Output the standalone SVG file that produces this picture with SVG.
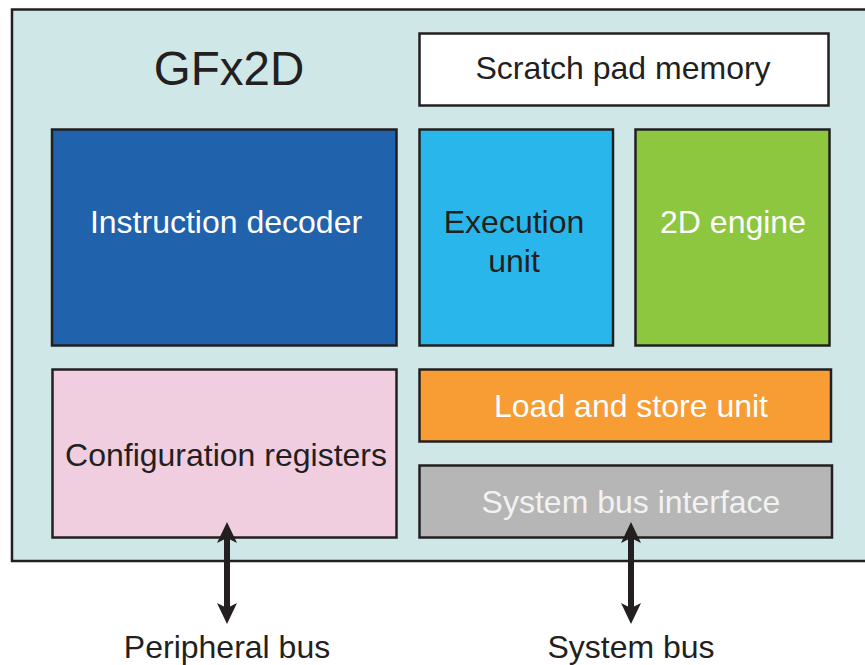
<svg xmlns="http://www.w3.org/2000/svg" width="865" height="665" viewBox="0 0 865 665">
<defs>
<style>
.box{stroke:#231f20;stroke-width:2.5}
.t{font-family:"Liberation Sans",Arial,sans-serif;font-size:32px;text-anchor:middle;fill:#231f20}
.w{fill:#ffffff}
.conn{stroke:#231f20;stroke-width:6;fill:none}
</style>
<marker id="ah" viewBox="0 0 21 20" refX="8" refY="10" markerWidth="21" markerHeight="20" markerUnits="userSpaceOnUse" orient="auto-start-reverse">
<path d="M0,0 L21,10 L0,20 L5,10 z" fill="#231f20"/>
</marker>
</defs>
<rect width="865" height="665" fill="#ffffff"/>
<g id="gfx2d">
<rect class="box" x="12" y="9.5" width="860" height="551.5" fill="#cfe8e7"/>
<text class="t" x="229" y="85" style="font-size:47.5px">GFx2D</text>
</g>
<g id="scratch">
<rect class="box" x="419.5" y="33.5" width="409" height="72" fill="#ffffff"/>
<text class="t" x="623" y="79">Scratch pad memory</text>
</g>
<g id="decoder">
<rect class="box" x="52" y="129.5" width="344.5" height="216" fill="#2162ad"/>
<text class="t w" x="226" y="233">Instruction decoder</text>
</g>
<g id="exec">
<rect class="box" x="419.5" y="129.5" width="193.5" height="216" fill="#29b7eb"/>
<text class="t" x="514" y="233">Execution</text>
<text class="t" x="514" y="272">unit</text>
</g>
<g id="engine">
<rect class="box" x="635.5" y="129.5" width="194" height="216" fill="#8dc63f"/>
<text class="t w" x="733" y="233">2D engine</text>
</g>
<g id="config">
<rect class="box" x="52.5" y="369.5" width="344" height="168" fill="#f0cee0"/>
<text class="t" x="226" y="466">Configuration registers</text>
</g>
<g id="lsu">
<rect class="box" x="419.5" y="369.5" width="411.5" height="72" fill="#f79d34"/>
<text class="t w" x="631" y="417">Load and store unit</text>
</g>
<g id="sbi">
<rect class="box" x="419.5" y="465.5" width="412.5" height="72" fill="#b6b6b6"/>
<text class="t" x="631" y="513" style="fill:#f2f2f2">System bus interface</text>
</g>
<g id="connectors">
<line class="conn" x1="227" y1="535" x2="227" y2="611" marker-start="url(#ah)" marker-end="url(#ah)"/>
<line class="conn" x1="631" y1="535" x2="631" y2="611" marker-start="url(#ah)" marker-end="url(#ah)"/>
</g>
<g id="labels">
<text class="t" x="227" y="658">Peripheral bus</text>
<text class="t" x="631" y="658">System bus</text>
</g>
</svg>
